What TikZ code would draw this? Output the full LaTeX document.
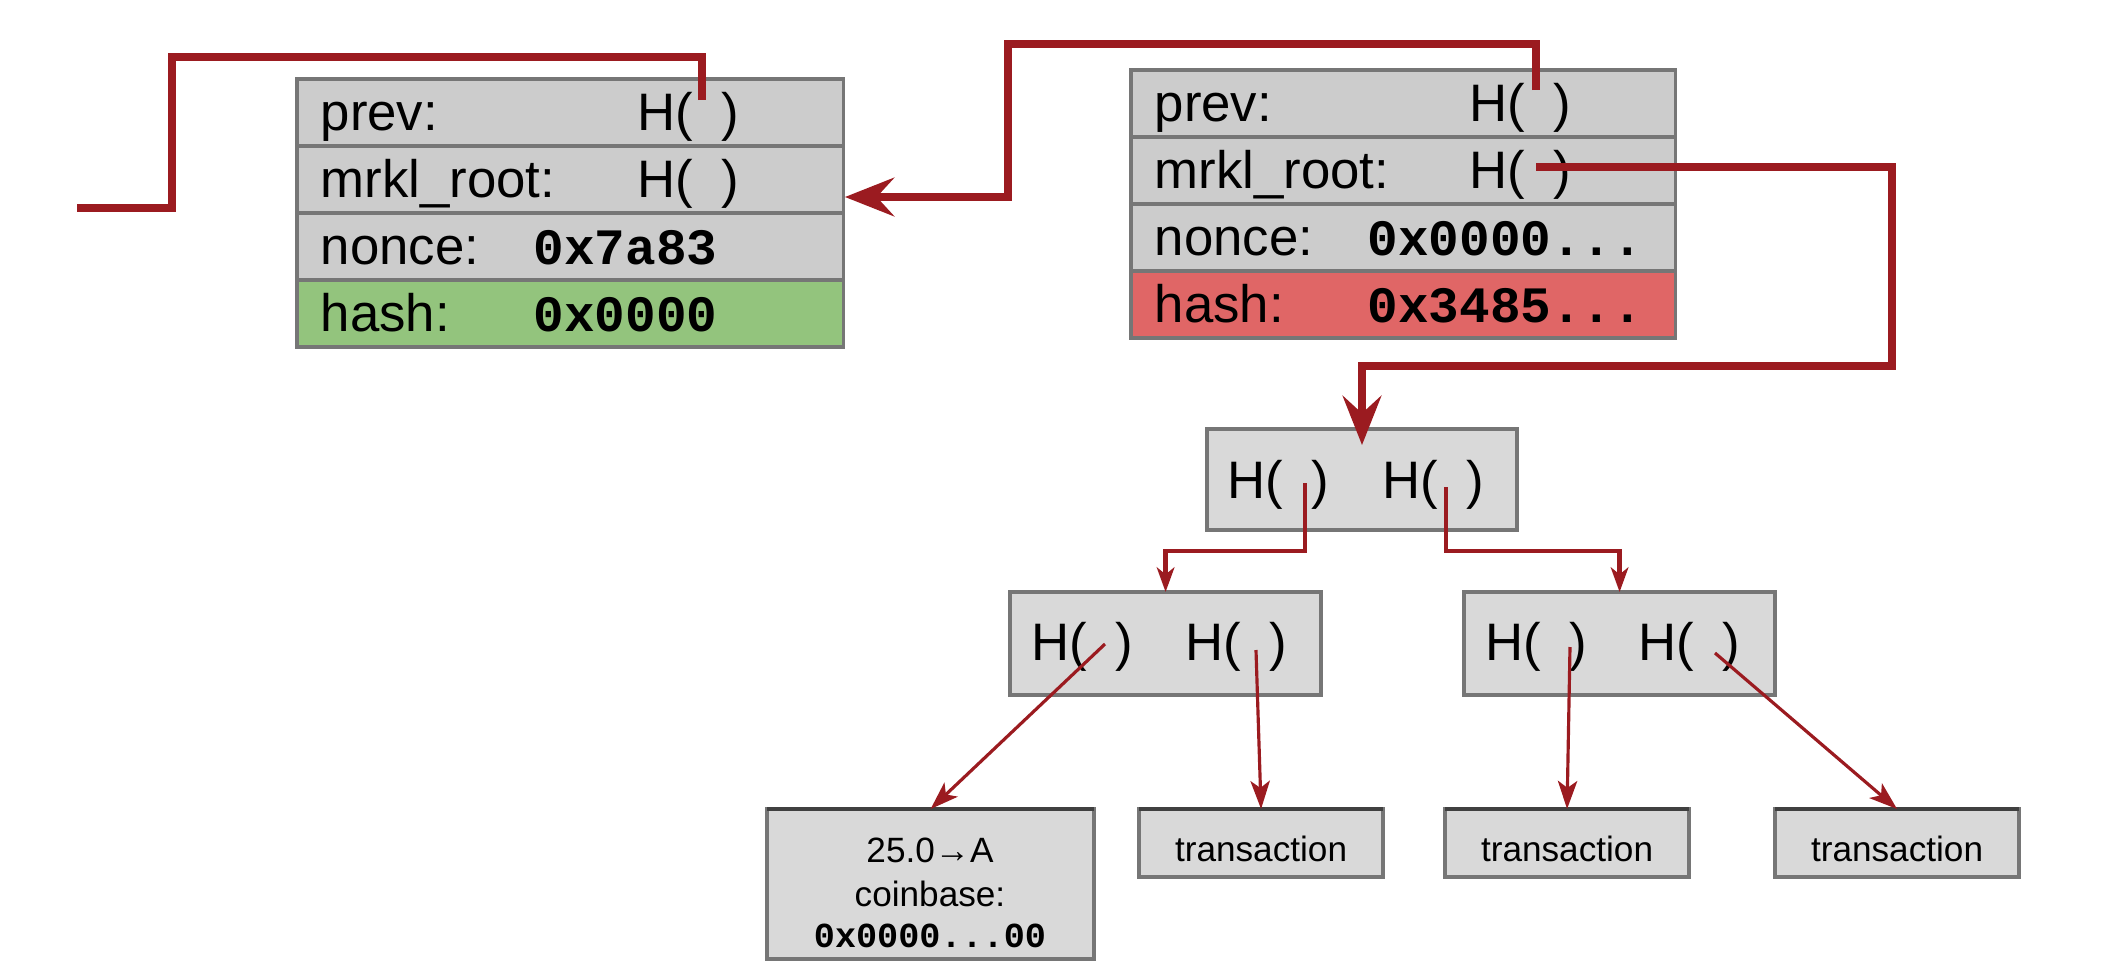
\documentclass[tikz,border=0pt]{standalone}
\usepackage{fontspec}
\setmainfont{Liberation Sans}
\setmonofont{Liberation Mono}
\usetikzlibrary{arrows.meta}
\definecolor{linkred}{RGB}{155,27,32}
\definecolor{cellgray}{RGB}{204,204,204}
\definecolor{boxgray}{RGB}{217,217,217}
\definecolor{edgegray}{RGB}{118,118,118}
\definecolor{okgreen}{RGB}{147,196,125}
\definecolor{badred}{RGB}{224,102,102}
\newcommand\Hpar{H(\hspace{8pt})}
\tikzset{
  cell/.style={draw=edgegray, line width=1pt, fill=cellgray, anchor=north west,
    minimum width=5.45cm, minimum height=0.67cm, inner sep=0pt, outer sep=0pt},
  tbox/.style={draw=edgegray, line width=1pt, fill=boxgray, anchor=north west,
    inner sep=0pt, outer sep=0pt},
  lbl/.style={anchor=base west, inner sep=0pt, font=\fontsize{15}{18}\selectfont},
  val/.style={anchor=base west, inner sep=0pt, font=\fontsize{14.5}{18}\selectfont\ttfamily\bfseries},
  leaftxt/.style={inner sep=0pt, align=center, font=\fontsize{10}{11.5}\selectfont},
  link/.style={draw=linkred, line width=2pt, line join=miter},
  tlink/.style={draw=linkred, line width=1.2pt, -{Stealth[length=7pt,width=5pt,inset=2pt]}},
  llink/.style={draw=linkred, line width=0.9pt, -{Stealth[length=8pt,width=5.5pt,inset=2pt]}},
}
\begin{document}
\begin{tikzpicture}[x=0.01cm, y=-0.01cm]
\useasboundingbox (0,0) rectangle (2114,978);
% ---------- left block ----------
\node[cell, minimum width=5.46cm] (Lprev) at (297,79) {};
\node[cell, minimum width=5.46cm] (Lroot) at (297,146) {};
\node[cell, minimum width=5.46cm] (Lnonce) at (297,213) {};
\node[cell, minimum width=5.46cm, fill=okgreen] (Lhash) at (297,280) {};
\node[lbl] (Lt1) at (320,130) {prev:};
\node[lbl] (LH1) at (637,130) {\Hpar};
\node[lbl] (Lt2) at (320,197) {mrkl\_root:};
\node[lbl] (LH2) at (637,197) {\Hpar};
\node[lbl] (Lt3) at (320,264) {nonce:};
\node[val] (Lv3) at (533,264) {0x7a83};
\node[lbl] (Lt4) at (320,331) {hash:};
\node[val] (Lv4) at (533,331) {0x0000};
% ---------- right block ----------
\node[cell, minimum width=5.44cm] (Rprev) at (1131,70) {};
\node[cell, minimum width=5.44cm] (Rroot) at (1131,137) {};
\node[cell, minimum width=5.44cm] (Rnonce) at (1131,204) {};
\node[cell, minimum width=5.44cm, fill=badred] (Rhash) at (1131,271) {};
\node[lbl] (Rt1) at (1154,121) {prev:};
\node[lbl] (RH1) at (1469,121) {\Hpar};
\node[lbl] (Rt2) at (1154,188) {mrkl\_root:};
\node[lbl] (RH2) at (1469,188) {\Hpar};
\node[lbl] (Rt3) at (1154,255) {nonce:};
\node[val] (Rv3) at (1367,255) {0x0000...};
\node[lbl] (Rt4) at (1154,322) {hash:};
\node[val] (Rv4) at (1367,322) {0x3485...};
% ---------- merkle tree ----------
\node[tbox, minimum width=3.10cm, minimum height=1.01cm] (M0) at (1207,429) {};
\node[tbox, minimum width=3.11cm, minimum height=1.03cm] (M1) at (1010,592) {};
\node[tbox, minimum width=3.11cm, minimum height=1.03cm] (M2) at (1464,592) {};
\node[lbl] (M0h1) at (1227,498) {\Hpar};
\node[lbl] (M0h2) at (1382,498) {\Hpar};
\node[lbl] (M1h1) at (1031,660) {\Hpar};
\node[lbl] (M1h2) at (1185,660) {\Hpar};
\node[lbl] (M2h1) at (1485,660) {\Hpar};
\node[lbl] (M2h2) at (1638,660) {\Hpar};
% ---------- leaves ----------
\node[tbox, minimum width=3.27cm, minimum height=1.50cm] (T1) at (767,809) {};
\node[tbox, minimum width=2.44cm, minimum height=0.68cm] (T2) at (1139,809) {};
\node[tbox, minimum width=2.44cm, minimum height=0.68cm] (T3) at (1445,809) {};
\node[tbox, minimum width=2.44cm, minimum height=0.68cm] (T4) at (1775,809) {};
\draw[line width=1.3pt, draw=black!75] (T1.north west) -- (T1.north east);
\draw[line width=1.3pt, draw=black!75] (T2.north west) -- (T2.north east);
\draw[line width=1.3pt, draw=black!75] (T3.north west) -- (T3.north east);
\draw[line width=1.3pt, draw=black!75] (T4.north west) -- (T4.north east);
\node[leaftxt] (T1t) at (930,893) {25.0→A\\[1pt]coinbase:\\{\ttfamily\bfseries 0x0000...00}};
\node[leaftxt] (T2t) at ([yshift=-0.06cm]T2.center) {transaction};
\node[leaftxt] (T3t) at ([yshift=-0.06cm]T3.center) {transaction};
\node[leaftxt] (T4t) at ([yshift=-0.06cm]T4.center) {transaction};
% ---------- anchor points inside H( ) ----------
\coordinate (LprevIn) at (702,100);
\coordinate (LrootIn) at (845,197);
\coordinate (RprevIn) at (1536,90);
\coordinate (RrootIn) at (1536,167);
\coordinate (c1a) at (172,57);
\coordinate (c1end) at (77,208);
\coordinate (c2a) at (1008,44);
\coordinate (c3a) at (1892,366);
\coordinate (M0in) at (1362,445);
\coordinate (M0a) at (1305,483);
\coordinate (M0b) at (1446,487);
\coordinate (M1a) at (1105,644);
\coordinate (M1b) at (1256,650);
\coordinate (M2a) at (1570,647);
\coordinate (M2b) at (1715,653);
% ---------- connectors ----------
\draw[link] (LprevIn) |- (c1a) |- (c1end);
\draw[link, -{Stealth[length=14pt,width=11pt,inset=5pt]}] (RprevIn) |- (c2a) |- (LrootIn);
\draw[link, -{Stealth[length=14pt,width=11pt,inset=5pt]}] (RrootIn) -| (c3a) -| (M0in);
\draw[tlink] (M0a) -- ++(0,68) -| (M1.north);
\draw[tlink] (M0b) -- ++(0,64) -| (M2.north);
\draw[llink] (M1a) -- (T1.north);
\draw[llink] (M1b) -- (T2.north);
\draw[llink] (M2a) -- (T3.north);
\draw[llink] (M2b) -- (T4.north);
\end{tikzpicture}
\end{document}
